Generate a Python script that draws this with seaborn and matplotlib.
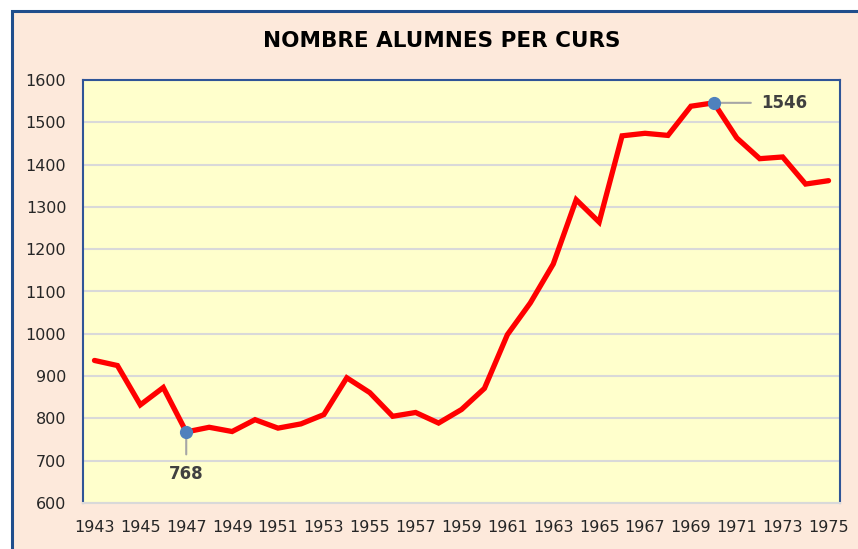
import matplotlib
matplotlib.use('Agg')
import matplotlib.pyplot as plt
import seaborn as sns
from matplotlib.patches import Rectangle

# Data
years = list(range(1943, 1976))
students = [937, 925, 832, 873, 768, 779, 769, 797, 777, 787, 809, 896,
            861, 805, 814, 789, 821, 871, 998, 1073, 1165, 1317, 1264, 1468,
            1474, 1469, 1538, 1546, 1463, 1414, 1418, 1354, 1362]
tick_years = list(range(1943, 1976, 2))
y_ticks = list(range(600, 1601, 100))
min_label = (1947, 768)
max_label = (1970, 1546)

sns.set_theme(style='white')
plt.rcParams['font.family'] = ['DejaVu Sans']

fig = plt.figure(figsize=(8.58, 5.49), dpi=100)
fig.patch.set_facecolor('white')

# outer chart frame
fig.patches.append(Rectangle((12 / 858, -0.05), 1.0, 1 - 11 / 549 + 0.05,
                             transform=fig.transFigure, facecolor='#FDE9DB',
                             edgecolor='#1F4E8C', linewidth=2.2, zorder=-5))

ax = fig.add_axes([83 / 858, 1 - 503 / 549, (840 - 83) / 858, (503 - 80) / 549])
ax.set_facecolor('#FFFFCC')

sns.lineplot(x=years, y=students, ax=ax, color='#FF0000', linewidth=3.8,
             solid_joinstyle='miter', zorder=3)

ax.set_xlim(1942.5, 1975.5)
ax.set_ylim(600, 1600)
ax.set_xticks(tick_years)
ax.set_yticks(y_ticks)
ax.tick_params(axis='both', length=0, labelsize=11.5, labelcolor='#262626')
ax.tick_params(axis='y', pad=12)
ax.tick_params(axis='x', pad=12)
ax.yaxis.grid(True, color='#D9D9D9', linewidth=1.5)
ax.xaxis.grid(False)
ax.set_axisbelow(True)

for side in ['left', 'top', 'right']:
    ax.spines[side].set_color('#2F5597')
    ax.spines[side].set_linewidth(1.5)
ax.spines['bottom'].set_color('#D9D9D9')
ax.spines['bottom'].set_linewidth(1.5)

# highlighted min / max
for yr, val in [min_label, max_label]:
    ax.plot(yr, val, 'o', color='#4F81BD', markersize=8.5, zorder=4)

ax.annotate(str(min_label[1]), xy=min_label, xytext=(0, -30), textcoords='offset points',
            ha='center', va='center', fontsize=12, fontweight='bold', color='#404040',
            arrowprops=dict(arrowstyle='-', color='#A6A6A6', lw=1.5, shrinkA=5, shrinkB=0))
ax.annotate(str(max_label[1]), xy=max_label, xytext=(34, 0), textcoords='offset points',
            ha='left', va='center', fontsize=12, fontweight='bold', color='#404040',
            arrowprops=dict(arrowstyle='-', color='#A6A6A6', lw=1.5, shrinkA=5, shrinkB=0))

fig.text(442 / 858, 1 - 41 / 549, 'NOMBRE ALUMNES PER CURS', ha='center', va='center',
         fontsize=15.5, fontweight='bold', color='black')

fig.savefig('out.png', dpi=100)
